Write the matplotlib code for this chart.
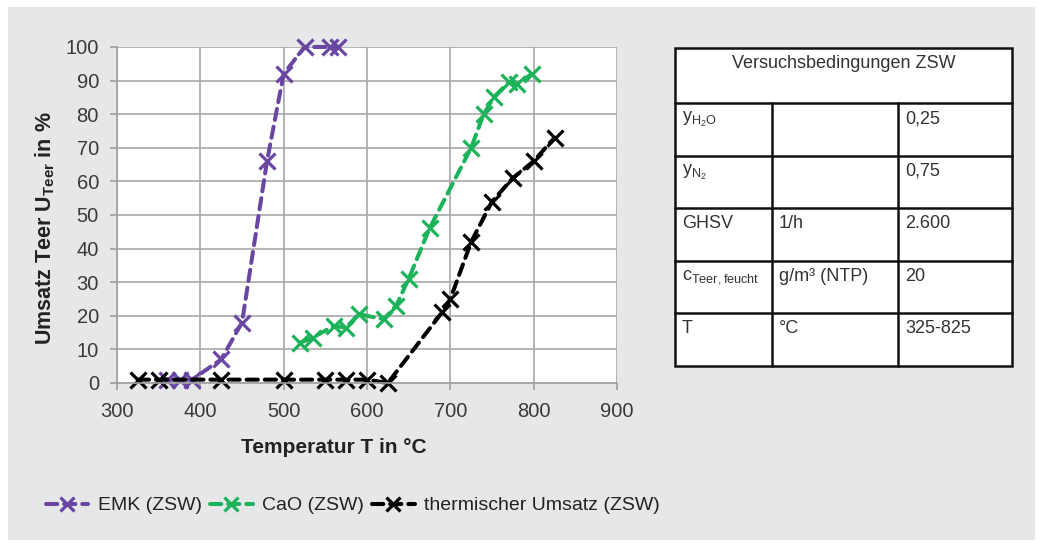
import matplotlib
matplotlib.use("Agg")
import matplotlib.pyplot as plt
from matplotlib.patches import Rectangle

plt.rcParams["font.family"] = ["Liberation Sans", "DejaVu Sans"]
plt.rcParams["mathtext.fontset"] = "custom"
plt.rcParams["mathtext.rm"] = "Liberation Sans"
plt.rcParams["mathtext.bf"] = "Liberation Sans:bold"

# data
emk_t = [360, 375, 390, 425, 450, 480, 500, 525, 555, 565]
emk_u = [1, 1, 1, 7, 18, 66, 92, 100, 100, 100]

cao_t = [520, 535, 560, 575, 590, 620, 635, 650, 675, 725, 740, 752, 770, 780, 798]
cao_u = [12, 13.5, 17, 16.5, 20.5, 19, 23, 31, 46, 70, 80, 85, 89.5, 89, 92]

th_t = [325, 350, 425, 500, 550, 575, 600, 625, 690, 700, 725, 750, 775, 800, 825]
th_u = [1, 1, 1, 1, 1, 1, 1, 0, 21, 25, 42, 54, 61, 66, 73]

labels = ["EMK (ZSW)", "CaO (ZSW)", "thermischer Umsatz (ZSW)"]
colors = ["#6a46a3", "#1db35b", "#000000"]

x_ticks = [300, 400, 500, 600, 700, 800, 900]
y_ticks = list(range(0, 101, 10))

table_rows = [
    ["$\\mathregular{y_{H_2O}}$", "", "0,25"],
    ["$\\mathregular{y_{N_2}}$", "", "0,75"],
    ["GHSV", "1/h", "2.600"],
    ["$\\mathregular{c_{Teer,feucht}}$", "g/m³ (NTP)", "20"],
    ["T", "°C", "325-825"],
]

W, H = 1040, 547
fig = plt.figure(figsize=(10.4, 5.47), dpi=100, facecolor="white")
fig.patches.append(Rectangle((8 / W, 7 / H), 1027 / W, 533 / H,
                             transform=fig.transFigure, facecolor="#e6e7e9",
                             edgecolor="none", zorder=-10))

ax = fig.add_axes([117 / W, 1 - 383 / H, 500 / W, 336 / H])
ax.set_facecolor("white")

for t, u, c, lab in zip([emk_t, cao_t, th_t], [emk_u, cao_u, th_u], colors, labels):
    ax.plot(t, u, color=c, lw=2.9, dashes=(2.8, 1.7), marker="x", ms=12,
            mew=2.3, label=lab, dash_capstyle="round", clip_on=False)

ax.set_xlim(300, 900)
ax.set_ylim(0, 100)
ax.set_xticks(x_ticks)
ax.set_yticks(y_ticks)
ax.grid(True, color="#a8a8a8", lw=1.2)
ax.set_axisbelow(True)
for s in ["top", "right"]:
    ax.spines[s].set_visible(False)
for s in ["left", "bottom"]:
    ax.spines[s].set_color("#a0a0a0")
    ax.spines[s].set_linewidth(1.2)
ax.tick_params(axis="both", colors="#a0a0a0", labelcolor="#3a3a3a",
               labelsize=14.5, length=5, width=1.2)
ax.tick_params(axis="y", pad=8)
ax.tick_params(axis="x", pad=9)

ax.set_xlabel("Temperatur T in °C", fontsize=15, fontweight="bold",
              color="#222222")
ax.xaxis.set_label_coords(0.434, -0.165)
ax.set_ylabel("Umsatz Teer $\\mathregular{\\bf{U_{Teer}}}$ in %", fontsize=15.5,
              fontweight="bold", color="#222222")
ax.yaxis.set_label_coords(-0.12, 0.46)

fig.legend(loc="lower left", bbox_to_anchor=(28 / W, 1 - 532 / H), ncol=3,
           frameon=False, fontsize=14, handlelength=2.2, handletextpad=0.5,
           columnspacing=0.4, labelcolor="#222222", markerscale=0.8)

# table on the right
tx = fig.add_axes([0, 0, 1, 1], facecolor="none")
tx.set_xlim(0, W)
tx.set_ylim(H, 0)
tx.axis("off")
cols = [675, 772, 898, 1012]
rows_y = [48, 103, 156, 208, 261, 313, 366]
tx.add_patch(Rectangle((cols[0], rows_y[0]), cols[-1] - cols[0], rows_y[-1] - rows_y[0],
                       facecolor="white", edgecolor="#111111", lw=1.8))
for y in rows_y[1:-1]:
    tx.plot([cols[0], cols[-1]], [y, y], color="#111111", lw=1.8)
for x in cols[1:-1]:
    tx.plot([x, x], [rows_y[1], rows_y[-1]], color="#111111", lw=1.8)
tx.text((cols[0] + cols[-1]) / 2, rows_y[0] + 7, "Versuchsbedingungen ZSW",
        ha="center", va="top", fontsize=13, color="#333333")
for i, row in enumerate(table_rows):
    for j, txt in enumerate(row):
        tx.text(cols[j] + 7, rows_y[i + 1] + 7, txt, ha="left", va="top",
                fontsize=13, color="#333333")

fig.savefig("out.png", dpi=100, facecolor="white")
